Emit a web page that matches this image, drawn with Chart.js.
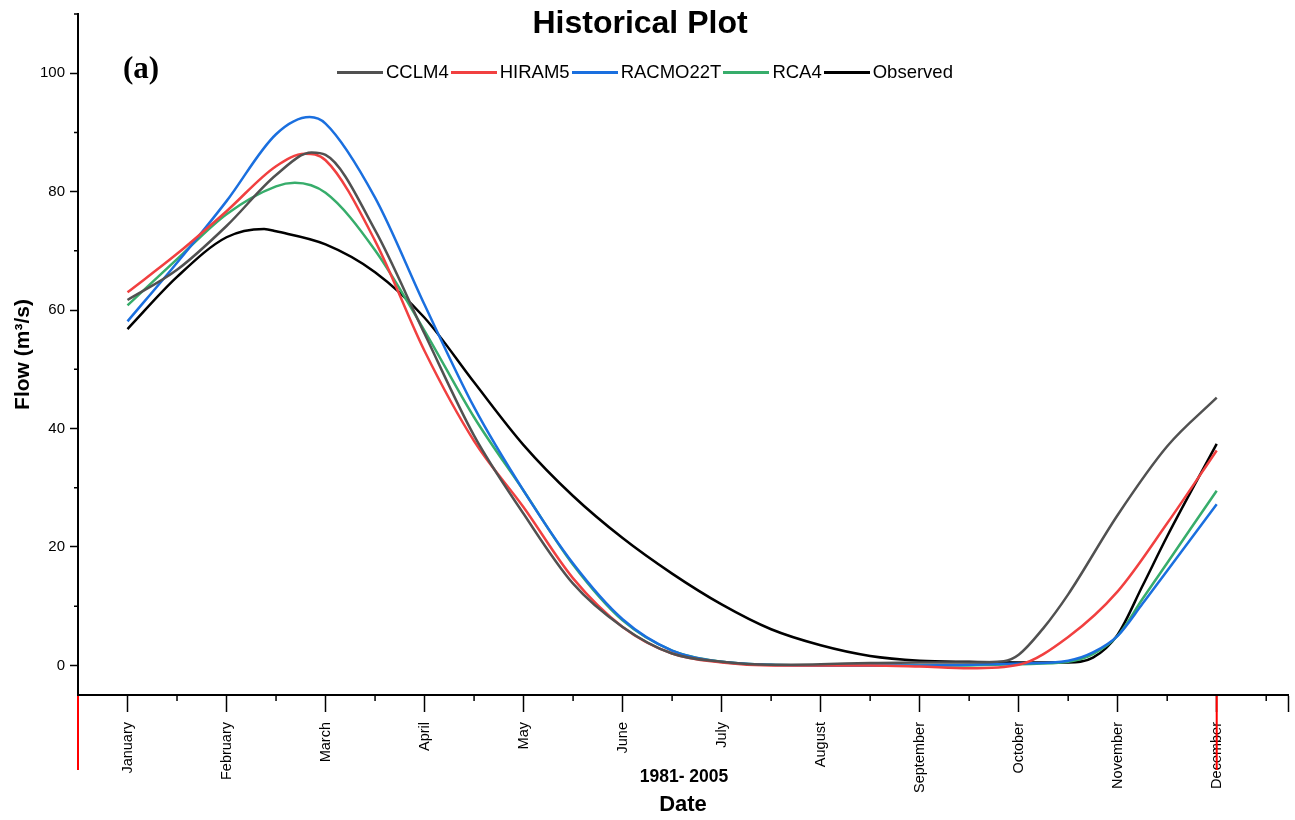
<!DOCTYPE html>
<html>
<head>
<meta charset="utf-8">
<title>Historical Plot</title>
<script src="https://cdn.jsdelivr.net/npm/chart.js@4.4.1/dist/chart.umd.min.js"></script>
<style>
  body { margin: 0; background: #fff; font-family: "Liberation Sans", Arial, sans-serif; color: #000; }
  #wrap { position: relative; width: 1295px; height: 820px; }
  #flowChart { position: absolute; left: 0; top: 0; }
  #title { position: absolute; left: 0; width: 1280px; top: 4px; line-height: 36px;
           text-align: center; font-weight: bold; font-size: 32px; }
  #panel { position: absolute; left: 123px; top: 51px; line-height: 34px;
           font-family: "Liberation Serif", "Times New Roman", serif; font-weight: bold; font-size: 31px; }
  #legend { position: absolute; left: 337px; top: 61px; height: 22px; display: flex; align-items: center;
            font-size: 18.5px; line-height: 22px; white-space: nowrap; }
  #legend .swatch { display: inline-block; width: 46px; height: 3px; margin-right: 3px; }
  #legend .item { display: flex; align-items: center; margin-right: 2px; }
  #period { position: absolute; left: 584px; width: 200px; top: 766px; line-height: 20px;
            text-align: center; font-weight: bold; font-size: 17.5px; }
</style>
</head>
<body>
<div id="wrap">
  <canvas id="flowChart" width="1295" height="820"></canvas>
  <div id="title">Historical Plot</div>
  <div id="panel">(a)</div>
  <div id="legend"></div>
  <div id="period">1981- 2005</div>
</div>
<script>
"use strict";

// ── Data (half-month steps) ──────────────────────────────────────────
const months = ['January', 'February', 'March', 'April', 'May', 'June',
                'July', 'August', 'September', 'October', 'November', 'December'];
const samplePos = [0, 0.5, 1, 1.5, 2, 2.5, 3, 3.5, 4, 4.5, 5, 5.5,
                   6, 6.5, 7, 7.5, 8, 8.5, 9, 9.5, 10, 10.5, 11];

const cclm4    = [61.7, 66.8, 74.2, 82.8, 86.2, 73.5, 56.0, 38.8, 25.6, 13.8, 6.5, 2.0,
                  0.6, 0.1, 0.2, 0.4, 0.5, 0.5, 1.8, 12.0, 25.4, 37.0, 45.2];
const hiram5   = [63.0, 69.5, 76.7, 84.3, 85.3, 71.7, 53.1, 37.9, 26.7, 14.7, 6.5, 2.0,
                  0.5, 0.0, 0.0, 0.0, -0.2, -0.5, 0.1, 4.8, 12.5, 24.0, 36.3];
const racmo22t = [58.1, 68.0, 78.4, 89.7, 91.5, 79.0, 60.9, 43.6, 29.5, 17.2, 7.8, 2.5,
                  0.6, 0.1, 0.0, 0.0, 0.0, 0.1, 0.3, 0.8, 5.0, 16.0, 27.2];
const rca4     = [60.8, 68.6, 76.2, 80.9, 79.8, 70.1, 56.5, 41.9, 29.5, 17.0, 7.6, 2.5,
                  0.6, 0.1, 0.0, 0.0, 0.0, 0.0, 0.2, 0.6, 5.0, 17.3, 29.5];
const observed = [56.8, 65.6, 72.3, 73.3, 71.1, 66.4, 58.7, 47.8, 37.2, 28.6, 21.5, 15.5,
                  10.3, 6.1, 3.4, 1.6, 0.8, 0.6, 0.5, 0.5, 5.2, 21.8, 37.4];

// extra readings off the grid: spring peaks and the autumn rise [month position, flow]
const cclm4Extra    = [[1.86, 86.6], [8.85, 0.7], [9.25, 6.3]];
const hiram5Extra   = [[1.79, 86.4]];
const racmo22tExtra = [[1.84, 92.6], [9.75, 2.2], [10.25, 10.4]];
const rca4Extra     = [[1.69, 81.5], [9.75, 1.9], [10.25, 11.2]];
const observedExtra = [[1.38, 73.7], [9.75, 1.3], [10.25, 13.4]];

const yMajor = [0, 20, 40, 60, 80, 100];
const yMinor = [10, 30, 50, 70, 90, 110];
const xMinor = [0.5, 1.5, 2.5, 3.5, 4.5, 5.5, 6.5, 7.5, 8.5, 9.5, 10.5, 11.5];
const X_MIN = -0.5, X_MAX = 11.72;

const series = [
  { label: 'CCLM4',    values: cclm4,    extra: cclm4Extra,    color: '#515151' },
  { label: 'HIRAM5',   values: hiram5,   extra: hiram5Extra,   color: '#F14040' },
  { label: 'RACMO22T', values: racmo22t, extra: racmo22tExtra, color: '#1A6FDF' },
  { label: 'RCA4',     values: rca4,     extra: rca4Extra,     color: '#37AD6B' },
  { label: 'Observed', values: observed, extra: observedExtra, color: '#000000' },
];

function toPoints(values, extra) {
  const pts = samplePos.map((p, i) => ({ x: p, y: values[i] }));
  extra.forEach(([p, v]) => pts.push({ x: p, y: v }));
  return pts.sort((a, b) => a.x - b.x);
}

// ── Minor ticks + red marks under the date axis ──────────────────────
const axisExtras = {
  id: 'axisExtras',
  afterDraw(chart) {
    const { ctx, chartArea: { left, bottom }, scales: { x, y } } = chart;
    ctx.save();
    ctx.strokeStyle = '#000';
    ctx.lineWidth = 1.5;
    ctx.beginPath();
    xMinor.forEach(v => { const px = x.getPixelForValue(v); ctx.moveTo(px, bottom); ctx.lineTo(px, bottom + 6); });
    yMinor.forEach(v => { const py = y.getPixelForValue(v); ctx.moveTo(left - 4, py); ctx.lineTo(left, py); });
    ctx.stroke();
    ctx.strokeStyle = '#ff0000';
    ctx.lineWidth = 2;
    ctx.beginPath();
    [X_MIN, 11].forEach(v => { const px = x.getPixelForValue(v); ctx.moveTo(px, bottom + 1); ctx.lineTo(px, bottom + 75); });
    ctx.stroke();
    ctx.restore();
  }
};

Chart.defaults.font.family = '"Liberation Sans", Arial, sans-serif';
Chart.defaults.color = '#000';

const chart = new Chart(document.getElementById('flowChart').getContext('2d'), {
  type: 'line',
  data: {
    datasets: series.map(s => ({
      label: s.label,
      data: toPoints(s.values, s.extra),
      borderColor: s.color,
      backgroundColor: s.color,
      borderWidth: 2.5,
      pointRadius: 0,
      cubicInterpolationMode: 'monotone',
      fill: false,
    }))
  },
  options: {
    responsive: false,
    animation: false,
    devicePixelRatio: 1,
    layout: { padding: { top: 12, right: 7, left: 0, bottom: 0 } },
    plugins: { legend: { display: false }, tooltip: { enabled: false } },
    scales: {
      x: {
        type: 'linear',
        min: X_MIN, max: X_MAX,
        afterBuildTicks: s => { s.ticks = months.map((m, i) => ({ value: i })).concat([{ value: X_MAX }]); },
        afterFit: s => { s.height = 125; s.paddingLeft = 0; s.paddingRight = 0; },
        ticks: {
          autoSkip: false, maxRotation: 90, minRotation: 90, padding: 10,
          font: { size: 14.5 },
          callback: v => (Number.isInteger(v) && months[v]) ? months[v] : ''
        },
        grid: { drawOnChartArea: false, drawTicks: true, tickLength: 17, tickWidth: 1.5, tickColor: '#000' },
        border: { display: true, color: '#000', width: 2 },
        title: { display: true, text: 'Date', font: { size: 22, weight: 'bold' }, padding: { top: 0, bottom: 2 } }
      },
      y: {
        min: -5, max: 110,
        afterBuildTicks: s => { s.ticks = yMajor.map(v => ({ value: v })); },
        afterFit: s => { s.width = 78; },
        ticks: { padding: 5, font: { size: 15 } },
        grid: { drawOnChartArea: false, drawTicks: true, tickLength: 8, tickWidth: 1.5, tickColor: '#000' },
        border: { display: true, color: '#000', width: 2 },
        title: { display: true, text: 'Flow (m³/s)', font: { size: 21, weight: 'bold' }, padding: { top: 11, bottom: 0 } }
      }
    }
  },
  plugins: [axisExtras]
});

// ── Legend row (built from the datasets) ─────────────────────────────
const legendEl = document.getElementById('legend');
chart.data.datasets.forEach(ds => {
  const item = document.createElement('span');
  item.className = 'item';
  const sw = document.createElement('span');
  sw.className = 'swatch';
  sw.style.background = ds.borderColor;
  item.appendChild(sw);
  item.appendChild(document.createTextNode(ds.label));
  legendEl.appendChild(item);
});
</script>
</body>
</html>
